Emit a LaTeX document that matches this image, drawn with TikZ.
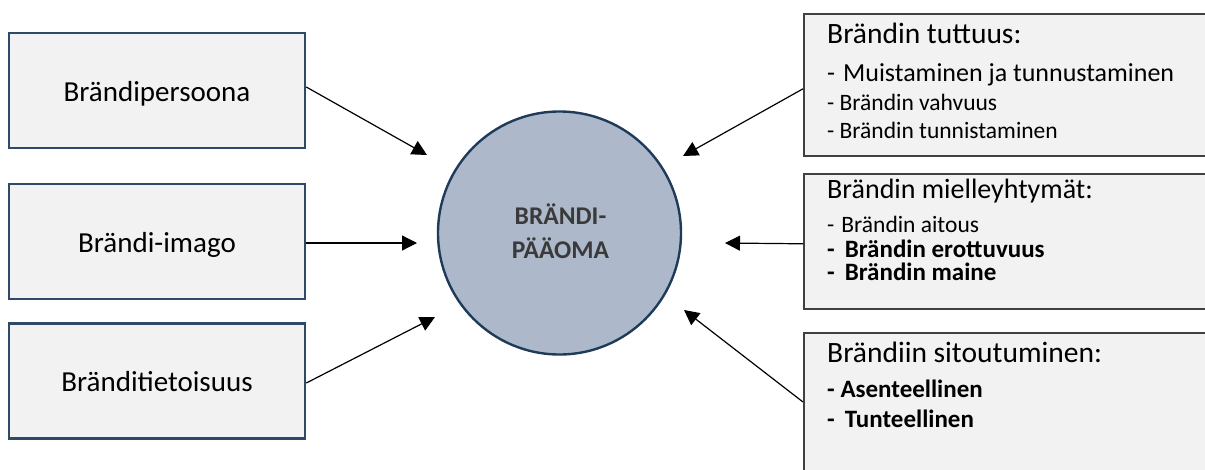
\documentclass[tikz,border=0pt]{standalone}
\usepackage{fontspec}
\setmainfont{Carlito}
\usetikzlibrary{arrows.meta,calc}
\definecolor{boxfill}{HTML}{F2F2F2}
\definecolor{leftedge}{HTML}{2E4A68}
\definecolor{rightedge}{HTML}{404040}
\definecolor{hubfill}{HTML}{ADB9CA}
\definecolor{hubedge}{HTML}{1F3B5A}
\definecolor{hubtext}{HTML}{3A3A3A}
\tikzset{
  leftbox/.style={draw=leftedge, line width=2.6pt, fill=boxfill,
    minimum width=296pt, minimum height=115pt, inner sep=0pt,
    font=\fontsize{29}{32}\selectfont, text height=21pt, text depth=0pt},
  rightbox/.style={draw=rightedge, line width=1.6pt, fill=boxfill},
  hub/.style={circle, draw=hubedge, line width=2.4pt, fill=hubfill,
    minimum size=243pt, inner sep=0pt},
  title/.style={anchor=base west, inner sep=0pt, font=\fontsize{29.5}{32}\selectfont},
  item/.style={anchor=base west, inner sep=0pt, font=\fontsize{23.5}{26}\selectfont},
  bitem/.style={item, font=\fontsize{25}{27}\selectfont\bfseries},
  conn/.style={line width=1.2pt, -{Triangle[length=15pt,width=15pt]}}
}
\begin{document}
\begin{tikzpicture}[x=1pt,y=-1pt]
\useasboundingbox (0,0) rectangle (1205,469);
\clip (0,0) rectangle (1205,469);

% factors on the left
\node[leftbox] (b1) at (157,90.5) {Brändipersoona};
\node[leftbox] (b2) at (157,241.5) {Brändi-imago};
\node[leftbox] (b3) at (157,381) {Bränditietoisuus};

% central circle
\node[hub] (hub) at (559.5,233) {};
\node[font=\fontsize{25.5}{34}\selectfont\bfseries, text=hubtext, align=center,
  anchor=base, inner sep=0pt] (hubtxt) at (560.5,258) {BRÄNDI-\\PÄÄOMA};

% dimensions on the right (running off the right edge)
\node[rightbox, draw, minimum width=420pt, minimum height=142pt, anchor=north west,
  inner sep=0pt] (r1) at (803,13) {};
\node[rightbox, draw, minimum width=420pt, minimum height=135pt, anchor=north west,
  inner sep=0pt] (r2) at (803,173) {};
\node[rightbox, draw, minimum width=420pt, minimum height=160pt, anchor=north west,
  inner sep=0pt] (r3) at (803,332) {};

\node[title] (t1) at (827,43) {Brändin tuttuus:};
\node[item, font=\fontsize{26}{28}\selectfont] (t1a) at (827,81)
  {-\hspace{8pt}Muistaminen ja tunnustaminen};
\node[item] (t1b) at (827,110) {- Brändin vahvuus};
\node[item] (t1c) at (827,138) {- Brändin tunnistaminen};

\node[title, font=\fontsize{28}{30}\selectfont] (t2) at (827,198) {Brändin mielleyhtymät:};
\node[item] (t2a) at (827,232) {-\hspace{7pt}Brändin aitous};
\node[bitem] (t2b) at (827,257) {-\hspace{10pt}Brändin erottuvuus};
\node[bitem] (t2c) at (827,280) {-\hspace{10pt}Brändin maine};

\node[title] (t3) at (827,362) {Brändiin sitoutuminen:};
\node[bitem] (t3a) at (827,397) {- Asenteellinen};
\node[bitem] (t3b) at (827,427) {-\hspace{10pt}Tunteellinen};

% arrow tips, all stopping short of the circle
\coordinate (p1) at (427,155);
\coordinate (p2) at (417,243);
\coordinate (p3) at (435,317);
\coordinate (p4) at (683,156);
\coordinate (p5) at (725,243);
\coordinate (p6) at (684,310);
\coordinate (s1) at ($(b1.east)+(0,-3.5)$);
\coordinate (s2) at ($(b2.east)+(0,1.5)$);
\coordinate (s3) at ($(b3.east)+(0,2)$);
\coordinate (s4) at ($(r1.west)+(0,4)$);
\coordinate (s5) at ($(r2.west)+(0,2.5)$);
\coordinate (s6) at ($(r3.north west)+(0,70)$);

\draw[conn] (s1) -- (p1);
\draw[conn] (s2) -- (p2);
\draw[conn] (s3) -- (p3);
\draw[conn] (s4) -- (p4);
\draw[conn] (s5) -- (p5);
\draw[conn] (s6) -- (p6);
\end{tikzpicture}
\end{document}
